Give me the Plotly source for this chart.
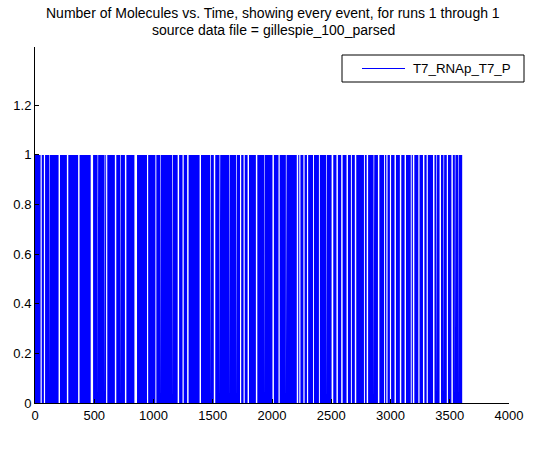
import plotly.graph_objects as go

# Simulation output: T7_RNAp_T7_P copy number (0/1) over time for run 1.
# Events are so dense that the trace reads as a solid band at 1; the
# intervals below are the quiet stretches where the species sits at 0.
t_first_event = 0
t_last_event = 3605
quiet_start = [47, 75, 118, 199, 269, 364, 470, 528, 587, 600, 674, 718, 759,
               839, 945, 1016, 1058, 1157, 1204, 1245, 1284, 1389, 1477, 1509,
               1557, 1638, 1697, 1730, 1760, 1794, 1864, 1933,
               2004, 2055, 2117, 2209, 2230, 2265, 2295, 2346, 2396, 2457, 2503,
               2544, 2584, 2629, 2666, 2699, 2776, 2799, 2857, 2894, 2946, 2965,
               2995, 3034, 3079, 3119, 3171, 3189, 3235, 3274, 3305, 3359, 3387,
               3414, 3447, 3475, 3514, 3543, 3573]
quiet_end = [57, 85, 123, 211, 281, 376, 490, 533, 593, 610, 686, 723, 771,
             861, 955, 1024, 1063, 1163, 1216, 1255, 1296, 1401, 1483, 1521,
             1563, 1643, 1703, 1740, 1770, 1806, 1876, 1938,
             2016, 2065, 2123, 2221, 2240, 2275, 2305, 2354, 2404, 2463, 2517,
             2556, 2596, 2641, 2674, 2711, 2784, 2811, 2863, 2906, 2954, 2975,
             3005, 3046, 3091, 3131, 3179, 3201, 3245, 3286, 3315, 3371, 3393,
             3426, 3453, 3485, 3526, 3548, 3578]
series_name = "T7_RNAp_T7_P"
x_ticks = [0, 500, 1000, 1500, 2000, 2500, 3000, 3500, 4000]
y_ticks = [0, 0.2, 0.4, 0.6, 0.8, 1, 1.2]
y_tick_text = ["0", "0.2", "0.4", "0.6", "0.8", "1", "1.2"]
title_lines = ["Number of Molecules vs. Time, showing every event, for runs 1 through 1",
               "source data file = gillespie_100_parsed"]

# Build the step trace: level 1 while events are firing, 0 in quiet stretches
xs = [t_first_event, t_first_event]
ys = [0, 1]
for a, b in zip(quiet_start, quiet_end):
    xs += [a, a, b, b]
    ys += [1, 0, 0, 1]
xs += [t_last_event, t_last_event]
ys += [1, 0]

BLUE = "rgb(0,0,255)"
FONT = "Liberation Sans, Arial, sans-serif"
W, H = 546, 455
PLOT_L, PLOT_R, PLOT_T, PLOT_B = 35, 509, 47, 403  # plotting area in px
PW, PH = PLOT_R - PLOT_L, PLOT_B - PLOT_T


def px_x(px):
    return (px - PLOT_L) / PW


def px_y(py):
    return (PLOT_B - py) / PH


fig = go.Figure()
fig.add_trace(go.Scatter(
    x=xs, y=ys, mode="lines", line=dict(color=BLUE, width=0),
    fill="tozeroy", fillcolor=BLUE, name=series_name,
    showlegend=False, hoverinfo="skip",
))

# Two-line title above the plotting area
for text, py in zip(title_lines, [13, 30]):
    fig.add_annotation(
        text=text, xref="paper", yref="paper",
        x=px_x(W / 2), y=px_y(py),
        xanchor="center", yanchor="middle", showarrow=False,
        font=dict(family=FONT, size=14, color="black"),
    )

# Legend box: frame, line sample and series label
fig.add_shape(type="rect", xref="paper", yref="paper",
              x0=px_x(342), x1=px_x(524), y0=px_y(82), y1=px_y(55),
              line=dict(color="black", width=1), fillcolor="white", layer="above")
fig.add_shape(type="line", xref="paper", yref="paper",
              x0=px_x(362), x1=px_x(405), y0=px_y(68.5), y1=px_y(68.5),
              line=dict(color=BLUE, width=1), layer="above")
fig.add_annotation(
    text=series_name, xref="paper", yref="paper",
    x=px_x(411), y=px_y(68.5), xanchor="left", yanchor="middle",
    showarrow=False, font=dict(family=FONT, size=13.3, color="black"),
)

fig.update_layout(
    width=W, height=H,
    margin=dict(l=PLOT_L, r=W - PLOT_R, t=PLOT_T, b=H - PLOT_B),
    paper_bgcolor="white", plot_bgcolor="white",
    font=dict(family=FONT, size=13, color="black"),
    showlegend=False,
    xaxis=dict(
        range=[0, 4000], tickvals=x_ticks, ticks="inside", ticklen=4,
        showline=True, linecolor="black", linewidth=1, mirror=False,
        showgrid=False, zeroline=False, tickcolor="black",
    ),
    yaxis=dict(
        range=[0, 1.435], tickvals=y_ticks, ticktext=y_tick_text,
        ticks="inside", ticklen=4,
        showline=True, linecolor="black", linewidth=1, mirror=False,
        showgrid=False, zeroline=False, tickcolor="black",
    ),
)

fig.write_html("out.html")
